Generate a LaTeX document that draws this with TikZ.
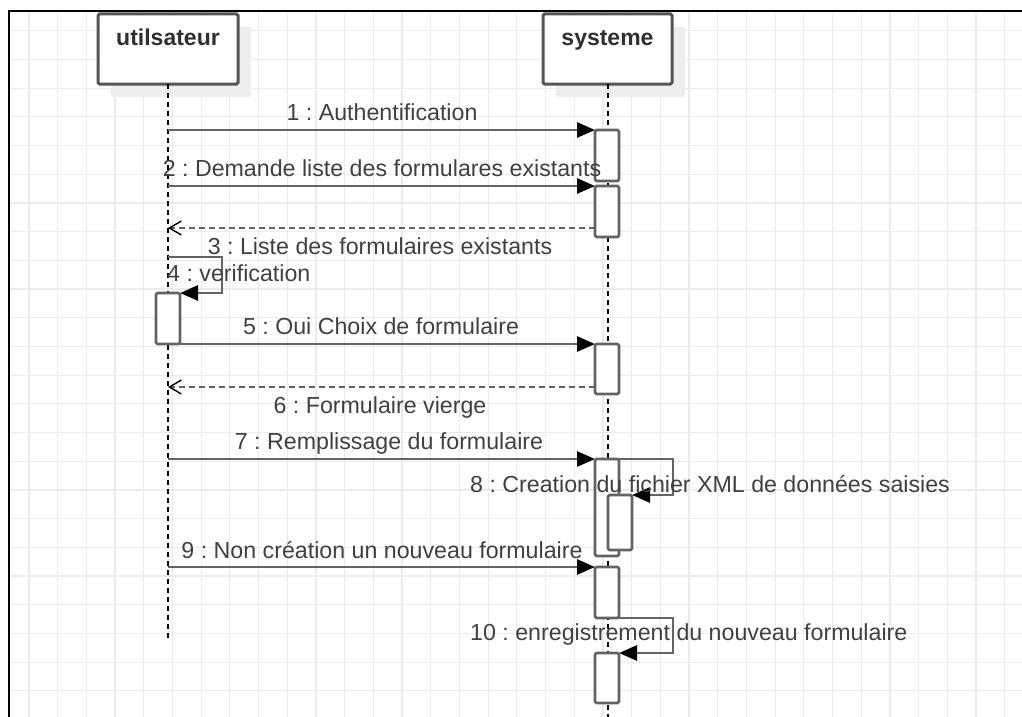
\documentclass[tikz,border=0pt]{standalone}
\usepackage{fontspec}
\setmainfont{Liberation Sans}
\usetikzlibrary{arrows.meta,shadows}
\definecolor{gridc}{HTML}{EBEBEB}
\definecolor{linec}{HTML}{636363}
\definecolor{boxc}{HTML}{555555}
\definecolor{txtc}{HTML}{404040}
\definecolor{ttlc}{HTML}{303030}
\definecolor{shadowc}{HTML}{EEEEEE}
\frenchspacing
\begin{document}
\begin{tikzpicture}[x=1pt,y=-1pt,
  lbl/.style={font=\fontsize{23.2}{27}\selectfont, text=txtc, inner sep=0pt},
  ttl/.style={font=\bfseries\fontsize{23}{27}\selectfont, text=ttlc, inner sep=0pt},
  headbox/.style={draw=boxc, line width=3pt, fill=white, rounded corners=1.5pt,
    minimum width=#1, minimum height=70pt, inner sep=0pt, outer sep=0pt,
    drop shadow={shadow xshift=13pt, shadow yshift=-13pt, fill=shadowc, opacity=1}},
  act/.style={draw=linec, line width=2.8pt, fill=white, rounded corners=1.5pt,
    minimum width=24pt, minimum height=#1, inner sep=0pt, outer sep=0pt, anchor=north},
  life/.style={black, line width=2pt, dash pattern=on 5pt off 4pt},
  msg/.style={linec, line width=2.8pt, -{Triangle[length=18pt,width=15pt,color=black]}},
  ret/.style={linec, line width=2.4pt, dash pattern=on 6pt off 4pt,
    -{Straight Barb[length=12pt,width=14pt,line width=1.4pt,color=black]}},
]
\useasboundingbox (0,0) rectangle (1022,717);

% background grid and frame
\foreach \k in {1,...,35}
  \draw[gridc, line width=1.2pt] ({0.2+28.7*\k},11) -- ({0.2+28.7*\k},717);
\foreach \k in {1,...,24}
  \draw[gridc, line width=1.2pt] (9,{2+28.7*\k}) -- (1022,{2+28.7*\k});
\draw[black, line width=2.5pt] (9,717) -- (9,11) -- (1022,11);

% lifeline heads
\node[headbox=140pt] (u) at (168,49) {};
\node[ttl, anchor=base] (ut) at (168,46) {utilsateur};
\node[headbox=129pt] (s) at (607.5,49) {};
\node[ttl, anchor=base] (st) at (607.5,46) {systeme};

% lifelines
\coordinate (uend) at (168,640);
\coordinate (send) at (607.5,717);
\draw[life] (u.south) -- (uend);
\draw[life] (s.south) -- (send);

% activation bars
\node[act=51pt] (a1) at (607,130) {};
\node[act=51pt] (a2) at (607,186) {};
\node[act=51pt] (a3) at (168,293) {};
\node[act=50pt] (a4) at (607,344) {};
\node[act=97pt] (a5) at (607,459) {};
\node[act=55pt] (a6) at (620,495) {};
\node[act=51pt] (a7) at (607,567) {};
\node[act=50pt] (a8) at (607,653) {};

% messages
\draw[msg] (a1.north west -| u.south) -- (a1.north west);
\draw[msg] (a2.north west -| u.south) -- (a2.north west);
\draw[ret] ([yshift=9pt]a2.south west) -- ([yshift=9pt]a2.south west -| u.south);
\draw[msg] ([yshift=36pt]a3.north) -- ++(54,0) -- ++(0,36) -- (a3.north east);
\draw[msg] (a3.south east) -- (a4.north west);
\draw[ret] ([yshift=7pt]a4.south west) -- ([yshift=7pt]a4.south west -| u.south);
\draw[msg] (a5.north west -| u.south) -- (a5.north west);
\draw[msg] (a5.north east) -- ++(54,0) -- ++(0,36) -- (a6.north east);
\draw[msg] (a7.north west -| u.south) -- (a7.north west);
\draw[msg] (a7.south east) -- ++(54,0) -- ++(0,35) -- (a8.north east);

% message labels
\node[lbl, anchor=base] (l1) at (382,120) {1 : Authentification};
\node[lbl, anchor=base] (l2) at (382,176) {2 : Demande liste des formulares existants};
\node[lbl, anchor=base] (l3) at (380,254) {3 : Liste des formulaires existants};
\node[lbl, anchor=base west] (l4) at (167,281) {4 : verification};
\node[lbl, anchor=base] (l5) at (381,334) {5 : Oui Choix de formulaire};
\node[lbl, anchor=base] (l6) at (380,413) {6 : Formulaire vierge};
\node[lbl, anchor=base] (l7) at (389,449) {7 : Remplissage du formulaire};
\node[lbl, anchor=base west] (l8) at (470,492) {8 : Creation du fichier XML de données saisies};
\node[lbl, anchor=base] (l9) at (382,558) {9 : Non création un nouveau formulaire};
\node[lbl, anchor=base west] (l10) at (470,640) {10 : enregistrement du nouveau formulaire};
\end{tikzpicture}
\end{document}
